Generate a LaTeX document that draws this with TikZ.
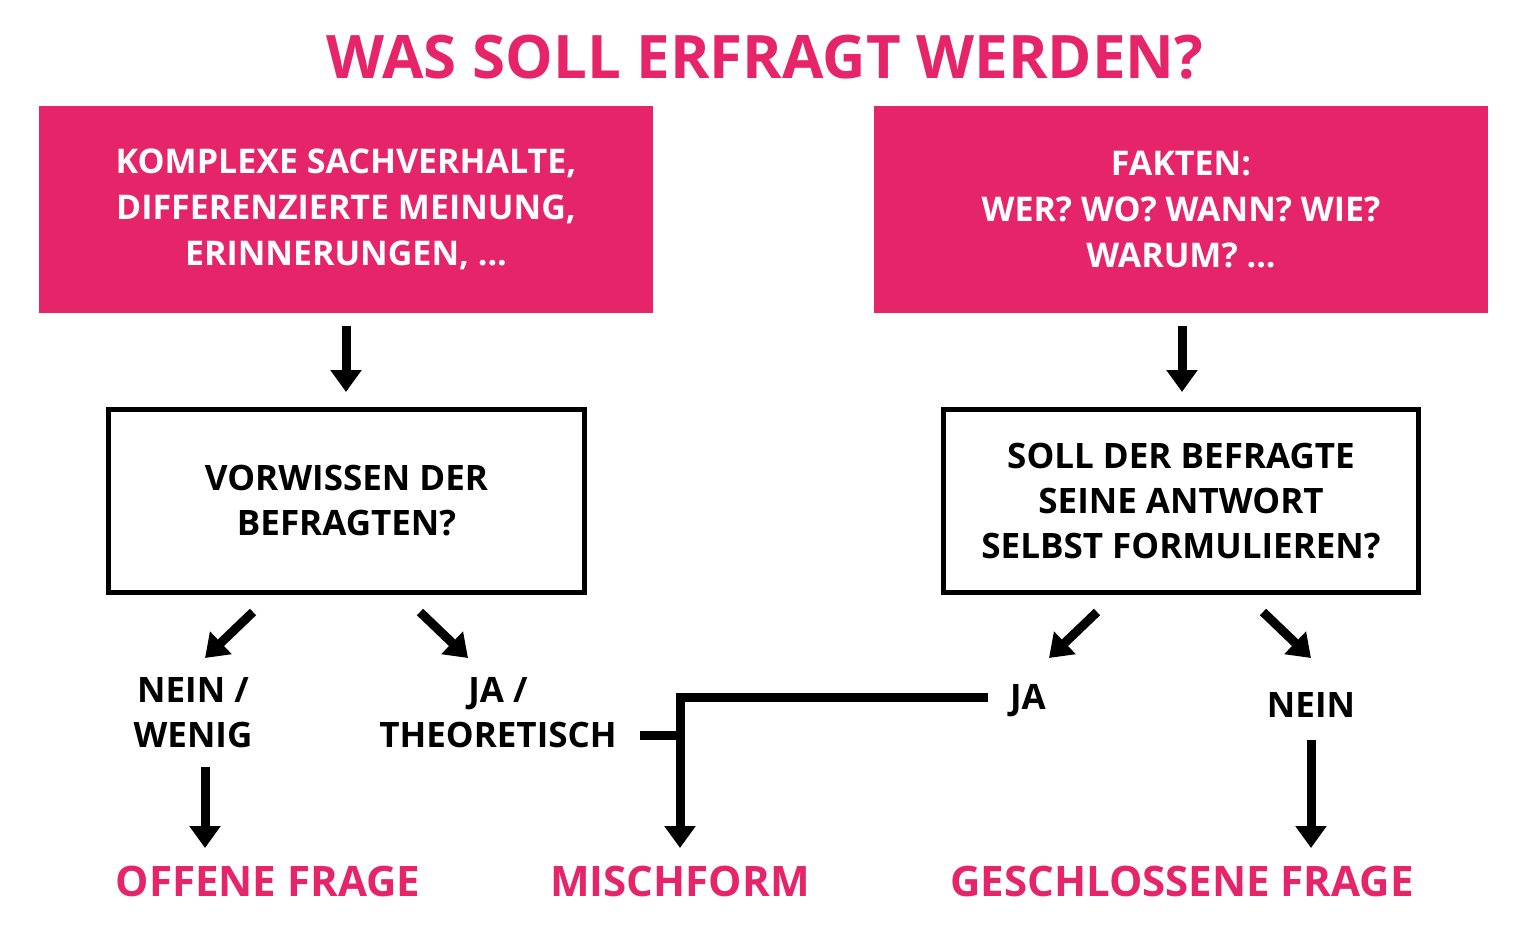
\documentclass[tikz,border=0pt]{standalone}
\usepackage{fontspec}
\setmainfont{Open Sans}
\usetikzlibrary{arrows.meta}
\definecolor{pink}{HTML}{E6246A}
\begin{document}
\begin{tikzpicture}[x=1pt,y=-1pt,
  pinkbox/.style={fill=pink,text=white,align=center,font=\fontsize{34}{46}\selectfont\bfseries},
  qbox/.style={draw=black,line width=5pt,fill=white,align=center,font=\fontsize{35}{45}\selectfont\bfseries},
  lbl/.style={align=center,font=\fontsize{35}{45}\selectfont\bfseries},
  res/.style={text=pink,font=\fontsize{42}{50}\selectfont\bfseries},
  arr/.style={line width=9pt,-{Triangle[width=30pt,length=22pt]}},
  conn/.style={line width=9pt}]
\useasboundingbox (0,0) rectangle (1536,948);
\node[text=pink,font=\fontsize{60}{70}\selectfont\bfseries] (title) at (765,57) {WAS SOLL ERFRAGT WERDEN?};
\node[pinkbox,minimum width=614pt,minimum height=207pt] (lp) at (346,209.5) {KOMPLEXE SACHVERHALTE,\\DIFFERENZIERTE MEINUNG,\\ERINNERUNGEN, ...};
\node[pinkbox,minimum width=614pt,minimum height=207pt] (rp) at (1181,209.5) {FAKTEN:\\WER? WO? WANN? WIE?\\WARUM? ...};
\node[qbox,minimum width=476pt,minimum height=183pt] (lq) at (346.5,501) {VORWISSEN DER\\BEFRAGTEN?};
\node[qbox,minimum width=475pt,minimum height=183pt] (rq) at (1181,501) {SOLL DER BEFRAGTE\\SEINE ANTWORT\\SELBST FORMULIEREN?};
\coordinate (a1) at (346,326); \coordinate (a1e) at (346,392);
\coordinate (a2) at (1182,326); \coordinate (a2e) at (1182,392);
\draw[arr] (a1) -- (a1e);
\draw[arr] (a2) -- (a2e);
\coordinate (d1) at (253,612); \coordinate (d1e) at (205,658);
\coordinate (d2) at (420,612); \coordinate (d2e) at (468,658);
\coordinate (d3) at (1097,612); \coordinate (d3e) at (1049,658);
\coordinate (d4) at (1263,612); \coordinate (d4e) at (1311,658);
\draw[arr] (d1) -- (d1e);
\draw[arr] (d2) -- (d2e);
\draw[arr] (d3) -- (d3e);
\draw[arr] (d4) -- (d4e);
\node[lbl] (nw) at (193,713) {NEIN /\\WENIG};
\node[lbl] (jt) at (498,713) {JA /\\THEORETISCH};
\node[lbl] (ja) at (1028,701) {JA};
\node[lbl] (nein) at (1311,705) {NEIN};
\node[res] (of) at (268,881) {OFFENE FRAGE};
\node[res] (mf) at (680,881) {MISCHFORM};
\node[res] (gf) at (1182,881) {GESCHLOSSENE FRAGE};
\coordinate (j1) at (988,697); \coordinate (j2) at (680,697); \coordinate (j3) at (680,848);
\draw[conn,-{Triangle[width=30pt,length=22pt]}] (j1) -- (j2) -- (j3);
\coordinate (t1) at (640,735); \coordinate (t2) at (684,735);
\draw[conn] (t1) -- (t2);
\coordinate (b1) at (205,767); \coordinate (b1e) at (205,848);
\coordinate (b2) at (1311,740); \coordinate (b2e) at (1311,848);
\draw[arr] (b1) -- (b1e);
\draw[arr] (b2) -- (b2e);
\end{tikzpicture}
\end{document}
